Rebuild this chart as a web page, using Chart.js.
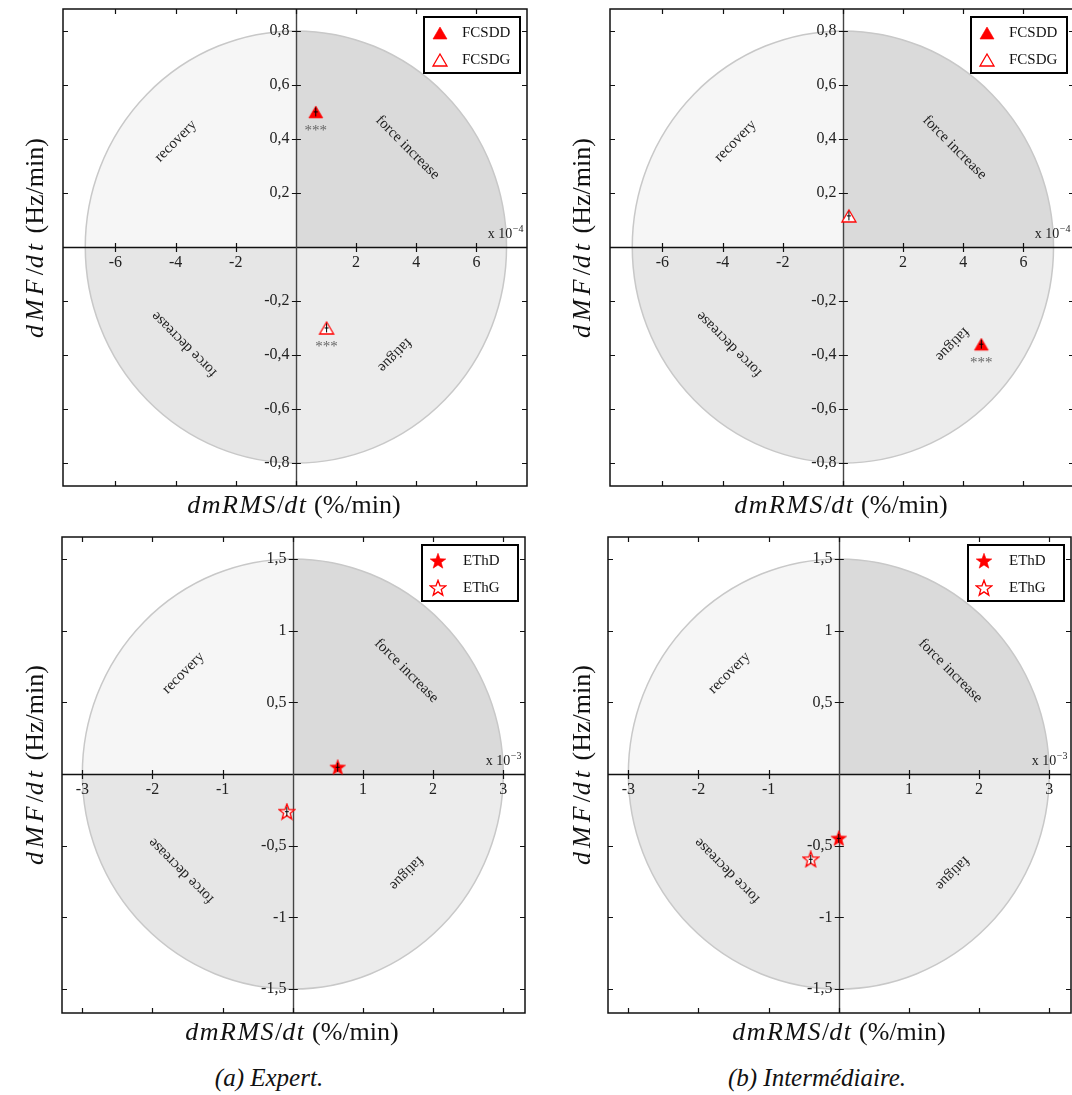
<!DOCTYPE html>
<html lang="fr">
<head>
<meta charset="utf-8">
<title>dMF/dt vs dmRMS/dt</title>
<script src="https://cdn.jsdelivr.net/npm/chart.js@4.4.1/dist/chart.umd.min.js"></script>
<style>
  html, body { margin: 0; padding: 0; background: #fff; }
  body { position: relative; width: 1072px; height: 1095px; overflow: hidden; font-family: 'Liberation Serif', serif; color: #111; }
  canvas { position: absolute; }
  .lbl { position: absolute; white-space: nowrap; transform: translate(-50%, -50%); font-size: 26px; }
  .lbl i { letter-spacing: 1.5px; }
  .ylbl { transform: translate(-50%, -50%) rotate(-90deg); }
  .ylbl i { letter-spacing: 4px; }
  .cap { position: absolute; white-space: nowrap; transform: translate(-50%, -50%); font-size: 25px; font-style: italic; }
</style>
</head>
<body>
<canvas id="c1"></canvas>
<canvas id="c2"></canvas>
<canvas id="c3"></canvas>
<canvas id="c4"></canvas>

<div class="lbl ylbl" style="left:35px; top:238px"><i>dMF</i>/<i>dt</i> (Hz/min)</div>
<div class="lbl ylbl" style="left:582px; top:238px"><i>dMF</i>/<i>dt</i> (Hz/min)</div>
<div class="lbl ylbl" style="left:35px; top:765px"><i>dMF</i>/<i>dt</i> (Hz/min)</div>
<div class="lbl ylbl" style="left:582px; top:765px"><i>dMF</i>/<i>dt</i> (Hz/min)</div>
<div class="lbl" style="left:294px; top:505px"><i>dmRMS</i>/<i>dt</i> (%/min)</div>
<div class="lbl" style="left:841px; top:505px"><i>dmRMS</i>/<i>dt</i> (%/min)</div>
<div class="lbl" style="left:292px; top:1032px"><i>dmRMS</i>/<i>dt</i> (%/min)</div>
<div class="lbl" style="left:839px; top:1032px"><i>dmRMS</i>/<i>dt</i> (%/min)</div>
<div class="cap" id="cap1" style="left:269px; top:1078px"></div>
<div class="cap" id="cap2" style="left:817px; top:1078px"></div>

<script>
// Data
var regionNames = ['recovery', 'force increase', 'force decrease', 'fatigue'];
var fcsdNames = ['FCSDD', 'FCSDG'];
var ethNames = ['EThD', 'EThG'];
var captions = ['(a) Expert.', '(b) Intermédiaire.'];

// FCSD slopes (x in 10^-4 %/min)
var expertFcsdX = [0.66, 1.02];
var expertFcsdY = [0.50, -0.30];
var expertFcsdSig = ['***', '***'];
var interFcsdX = [4.6, 0.2];
var interFcsdY = [-0.36, 0.115];
var interFcsdSig = ['***', ''];

// ETh slopes (x in 10^-3 %/min)
var expertEthX = [0.64, -0.085];
var expertEthY = [0.047, -0.263];
var expertEthSig = ['', ''];
var interEthX = [0.0, -0.40];
var interEthY = [-0.449, -0.595];
var interEthSig = ['', ''];

// circle radius (x, y) and ticks
var fcsdRadius = [7, 0.8];
var ethRadius = [3, 1.5];
var fcsdXTicks = [-6, -4, -2, 0, 2, 4, 6];
var fcsdYTicks = [-0.8, -0.6, -0.4, -0.2, 0, 0.2, 0.4, 0.6, 0.8];
var ethXTicks = [-3, -2, -1, 0, 1, 2, 3];
var ethYTicks = [-1.5, -1, -0.5, 0, 0.5, 1, 1.5];
var fcsdExp = '4';
var ethExp = '3';

var SERIF = "'Liberation Serif', 'Times New Roman', serif";
Chart.defaults.font.family = SERIF;
var PAD = 24;

// Markers
function makeMarker(shape, filled) {
  var c = document.createElement('canvas');
  c.width = 18; c.height = 18;
  var g = c.getContext('2d');
  g.beginPath();
  if (shape === 'triangle') {
    g.moveTo(9, 3); g.lineTo(16, 15); g.lineTo(2, 15); g.closePath();
  } else {
    for (var k = 0; k < 10; k++) {
      var r = k % 2 ? 3.4 : 8.2;
      var ang = -Math.PI / 2 + k * Math.PI / 5;
      var px = 9 + r * Math.cos(ang), py = 9.5 + r * Math.sin(ang);
      if (k) g.lineTo(px, py); else g.moveTo(px, py);
    }
    g.closePath();
  }
  g.fillStyle = filled ? '#ff0000' : '#ffffff';
  g.fill();
  g.lineWidth = filled ? 0.6 : 1.3;
  g.strokeStyle = '#ff0000';
  g.stroke();
  return c;
}

function fmtTick(v) {
  if (v === 0) return '';
  return String(v).replace('.', ',');
}
// y labels sit flush on the centre axis, so pad them with thin spaces
function fmtYTick(v) {
  if (v === 0) return '';
  return fmtTick(v) + '\u2009\u2009';
}

// Plugin: shaded circle, axes, frame, legend, annotations
var quadPlugin = {
  id: 'quad',
  beforeDraw: function (chart, args, o) {
    var ctx = chart.ctx, xs = chart.scales.x, ys = chart.scales.y;
    var cx = xs.getPixelForValue(0), cy = ys.getPixelForValue(0);
    var rx = xs.getPixelForValue(o.r[0]) - cx, ry = cy - ys.getPixelForValue(o.r[1]);
    var a = chart.chartArea;
    var fills = ['#f6f6f6', '#dadada', '#e6e6e6', '#ececec'];
    var arcs = [[Math.PI, 1.5 * Math.PI], [1.5 * Math.PI, 2 * Math.PI], [0.5 * Math.PI, Math.PI], [0, 0.5 * Math.PI]];
    ctx.save();
    for (var i = 0; i < 4; i++) {
      ctx.beginPath();
      ctx.moveTo(cx, cy);
      ctx.ellipse(cx, cy, rx, ry, 0, arcs[i][0], arcs[i][1]);
      ctx.closePath();
      ctx.fillStyle = fills[i];
      ctx.fill();
    }
    ctx.beginPath();
    ctx.ellipse(cx, cy, rx, ry, 0, 0, 2 * Math.PI);
    ctx.strokeStyle = '#c8c8c8';
    ctx.lineWidth = 1.5;
    ctx.stroke();

    // region names
    var rot = [-45, 45, 225, 135];
    var dirs = [[-1, 1], [1, 1], [-1, -1], [1, -1]];
    ctx.font = '15px ' + SERIF;
    ctx.fillStyle = '#222';
    ctx.textAlign = 'center';
    ctx.textBaseline = 'middle';
    for (i = 0; i < 4; i++) {
      var px = cx + dirs[i][0] * o.lab[i][0] * rx;
      var py = cy - dirs[i][1] * o.lab[i][1] * ry;
      ctx.save();
      ctx.translate(px, py);
      ctx.rotate(rot[i] * Math.PI / 180);
      ctx.fillText(regionNames[i], 0, 0);
      ctx.restore();
    }

    // axes through the origin
    ctx.lineWidth = 1.4;
    ctx.strokeStyle = '#111';
    ctx.beginPath();
    ctx.moveTo(a.left, Math.round(cy) + 0.5); ctx.lineTo(a.right, Math.round(cy) + 0.5);
    ctx.stroke();
    ctx.strokeStyle = '#444';
    ctx.beginPath();
    ctx.moveTo(Math.round(cx) + 0.5, a.top); ctx.lineTo(Math.round(cx) + 0.5, a.bottom);
    ctx.stroke();
    ctx.restore();
  },
  afterDatasetsDraw: function (chart) {
    var ctx = chart.ctx;
    ctx.save();
    chart.data.datasets.forEach(function (ds, i) {
      chart.getDatasetMeta(i).data.forEach(function (pt, j) {
        // error mark
        ctx.strokeStyle = '#000';
        ctx.lineWidth = 1;
        ctx.beginPath();
        ctx.moveTo(pt.x, pt.y - 4.5); ctx.lineTo(pt.x, pt.y + 4.5);
        ctx.moveTo(pt.x - 2, pt.y); ctx.lineTo(pt.x + 2, pt.y);
        ctx.stroke();
        if (ds.sig && ds.sig[j]) {
          ctx.font = '15px ' + SERIF;
          ctx.fillStyle = '#666';
          ctx.textAlign = 'center';
          ctx.textBaseline = 'alphabetic';
          ctx.fillText(ds.sig[j], pt.x, pt.y + 23);
        }
      });
    });
    ctx.restore();
  },
  afterDraw: function (chart, args, o) {
    var ctx = chart.ctx, xs = chart.scales.x, ys = chart.scales.y;
    var a = chart.chartArea;
    var cx = xs.getPixelForValue(0), cy = ys.getPixelForValue(0);
    ctx.save();
    ctx.strokeStyle = '#111';
    ctx.lineWidth = 1.5;
    ctx.strokeRect(a.left, a.top, a.right - a.left, a.bottom - a.top);
    ctx.lineWidth = 1.2;
    ctx.beginPath();
    xs.ticks.forEach(function (t) {
      var p = Math.round(xs.getPixelForValue(t.value)) + 0.5;
      ctx.moveTo(p, a.top); ctx.lineTo(p, a.top + 5);
      ctx.moveTo(p, a.bottom); ctx.lineTo(p, a.bottom - 5);
      if (t.value !== 0) { ctx.moveTo(p, cy - 4); ctx.lineTo(p, cy + 5); }
    });
    ys.ticks.forEach(function (t) {
      var p = Math.round(ys.getPixelForValue(t.value)) + 0.5;
      ctx.moveTo(a.left, p); ctx.lineTo(a.left + 5, p);
      ctx.moveTo(a.right, p); ctx.lineTo(a.right - 5, p);
      if (t.value !== 0) { ctx.moveTo(cx - 4, p); ctx.lineTo(cx + 5, p); }
    });
    ctx.stroke();

    // multiplier
    ctx.fillStyle = '#222';
    ctx.textBaseline = 'alphabetic';
    ctx.textAlign = 'left';
    ctx.font = '10px ' + SERIF;
    var supW = ctx.measureText('\u2212' + o.exp).width;
    ctx.font = '14px ' + SERIF;
    var baseW = ctx.measureText('x 10').width;
    var mx = a.right - 4 - supW - baseW;
    ctx.fillText('x 10', mx, cy - 9);
    ctx.font = '10px ' + SERIF;
    ctx.fillText('\u2212' + o.exp, mx + baseW + 0.5, cy - 15);

    // legend
    var w = 96, h = 56;
    var lx = a.right - 7 - w, ly = a.top + 8;
    ctx.fillStyle = '#fff';
    ctx.fillRect(lx, ly, w, h);
    ctx.lineWidth = 2;
    ctx.strokeStyle = '#000';
    ctx.strokeRect(lx, ly, w, h);
    ctx.font = '15px ' + SERIF;
    ctx.fillStyle = '#111';
    ctx.textBaseline = 'middle';
    chart.data.datasets.forEach(function (ds, i) {
      var yy = ly + 16 + i * 27;
      var img = ds.pointStyle;
      ctx.drawImage(img, lx + 16 - img.width / 2, yy - img.height / 2);
      ctx.fillText(ds.label, lx + o.textX, yy);
    });
    ctx.restore();
  }
};

function buildPanel(id, area, xr, yr, names, shape, xv, yv, sig, xTicks, yTicks, radius, exp, lab, textX) {
  var cv = document.getElementById(id);
  var w = area[2] - area[0] + 2 * PAD, h = area[3] - area[1] + 2 * PAD;
  cv.width = w; cv.height = h;
  cv.style.width = w + 'px'; cv.style.height = h + 'px';
  cv.style.left = (area[0] - PAD) + 'px';
  cv.style.top = (area[1] - PAD) + 'px';
  var datasets = names.map(function (n, i) {
    return {
      label: n,
      data: [{ x: xv[i], y: yv[i] }],
      pointStyle: makeMarker(shape, i === 0),
      pointRadius: 8,
      showLine: false,
      sig: [sig[i]]
    };
  });
  function tickOpts(pad, cb) {
    return { padding: pad, color: '#222', font: { family: SERIF, size: 16 }, callback: cb, autoSkip: false, maxRotation: 0 };
  }
  return new Chart(cv, {
    type: 'scatter',
    data: { datasets: datasets },
    options: {
      responsive: false,
      animation: false,
      devicePixelRatio: 1,
      layout: { padding: PAD },
      plugins: {
        legend: { display: false },
        tooltip: { enabled: false },
        quad: { r: radius, lab: lab, exp: exp, textX: textX }
      },
      scales: {
        x: {
          type: 'linear', min: xr[0], max: xr[1], position: { y: 0 },
          afterBuildTicks: function (s) { s.ticks = xTicks.map(function (v) { return { value: v }; }); },
          grid: { display: false, drawTicks: false }, border: { display: false },
          ticks: tickOpts(6, fmtTick)
        },
        y: {
          type: 'linear', min: yr[0], max: yr[1], position: { x: 0 },
          afterBuildTicks: function (s) { s.ticks = yTicks.map(function (v) { return { value: v }; }); },
          grid: { display: false, drawTicks: false }, border: { display: false },
          ticks: tickOpts(6, fmtYTick)
        }
      }
    },
    plugins: [quadPlugin]
  });
}

buildPanel('c1', [63, 9, 527, 486], [-7.74, 7.68], [-0.885, 0.881], fcsdNames, 'triangle',
  expertFcsdX, expertFcsdY, expertFcsdSig, fcsdXTicks, fcsdYTicks, fcsdRadius, fcsdExp,
  [[0.57, 0.49], [0.53, 0.46], [0.53, 0.45], [0.47, 0.5]], 38);
buildPanel('c2', [610, 9, 1074, 486], [-7.74, 7.68], [-0.885, 0.881], fcsdNames, 'triangle',
  interFcsdX, interFcsdY, interFcsdSig, fcsdXTicks, fcsdYTicks, fcsdRadius, fcsdExp,
  [[0.51, 0.49], [0.53, 0.46], [0.54, 0.45], [0.52, 0.45]], 38);
buildPanel('c3', [62, 537, 525, 1013], [-3.29, 3.31], [-1.667, 1.653], ethNames, 'star',
  expertEthX, expertEthY, expertEthSig, ethXTicks, ethYTicks, ethRadius, ethExp,
  [[0.52, 0.47], [0.54, 0.48], [0.53, 0.45], [0.54, 0.46]], 41);
buildPanel('c4', [608, 537, 1071, 1013], [-3.29, 3.31], [-1.667, 1.653], ethNames, 'star',
  interEthX, interEthY, interEthSig, ethXTicks, ethYTicks, ethRadius, ethExp,
  [[0.52, 0.47], [0.53, 0.48], [0.53, 0.45], [0.54, 0.46]], 41);

document.getElementById('cap1').textContent = captions[0];
document.getElementById('cap2').textContent = captions[1];
</script>
</body>
</html>
